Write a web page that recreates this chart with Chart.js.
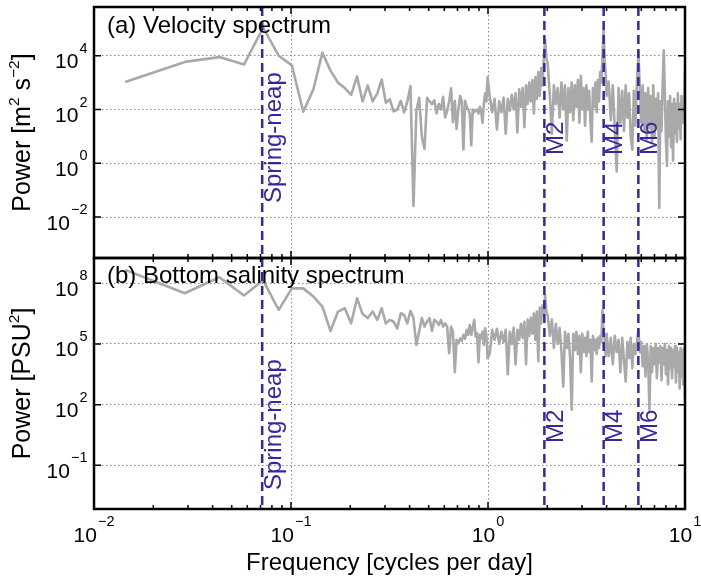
<!DOCTYPE html>
<html><head><meta charset="utf-8">
<script src="https://cdn.jsdelivr.net/npm/chart.js@4.4.0/dist/chart.umd.min.js"></script>
<style>
html,body{margin:0;padding:0;background:#fff;}
#wrap{position:relative;width:701px;height:579px;overflow:hidden;background:#fff;}
#c1{position:absolute;left:0;top:0;}
#c2{position:absolute;left:0;top:250px;}
</style></head><body>
<div id="wrap">
<canvas id="c1" width="701" height="262"></canvas>
<canvas id="c2" width="701" height="329"></canvas>
</div>
<script>
// ---- data ----
const frequency = [
0.0144,0.0289,0.0433,0.0577,0.0722,0.0866,0.1010,0.1154,0.1299,0.1443,
0.1587,0.1732,0.1876,0.2020,0.2165,0.2309,0.2453,0.2597,0.2742,0.2886,
0.3030,0.3175,0.3319,0.3463,0.3608,0.3752,0.3896,0.4040,0.4185,0.4329,
0.4473,0.4618,0.4762,0.4906,0.5051,0.5195,0.5339,0.5483,0.5628,0.5772,
0.5916,0.6061,0.6205,0.6349,0.6494,0.6638,0.6782,0.6926,0.7071,0.7215,
0.7359,0.7504,0.7648,0.7792,0.7937,0.8081,0.8225,0.8369,0.8514,0.8658,
0.8802,0.8947,0.9091,0.9235,0.9380,0.9524,0.9668,0.9812,0.9957,
1.02,1.05,1.08,1.11,1.14,1.17,1.20,1.23,1.26,1.29,1.32,1.35,1.38,1.41,1.44,1.47,1.50,1.53,1.56,1.59,1.62,1.65,1.68,1.71,1.74,1.77,1.80,1.83,1.86,1.89,1.92,1.95,1.98,
2.01,2.06,2.11,2.16,2.21,2.26,2.31,2.36,2.41,2.46,2.51,2.56,2.61,2.66,2.71,2.76,2.81,2.86,2.91,2.96,3.01,3.06,3.11,3.16,3.21,3.26,3.31,3.36,3.41,3.46,3.51,3.56,3.61,3.66,3.71,3.76,3.81,3.86,3.91,3.96,
4.0,4.1,4.2,4.3,4.4,4.5,4.6,4.7,4.8,4.9,5.0,5.1,5.2,5.3,5.4,5.5,5.6,5.7,5.8,5.9,6.0,6.1,6.2,6.3,6.4,6.5,6.6,6.7,6.8,6.9,
7.0,7.1,7.2,7.3,7.4,7.5,7.6,7.7,7.8,7.9,8.0,8.1,8.2,8.3,8.4,8.5,8.6,8.7,8.8,8.9,9.0,9.1,9.2,9.3,9.4,9.5,9.6,9.7,9.8,9.9,10.0
];

const velocityPower = [
1.05e3,5.9e3,8.9e3,4.7e3,1.1e5,1.0e4,4.4e3,83,5.6e2,1.3e4,
2.8e3,1.0e3,6.3e2,3.5e2,1.7e3,2.0e2,7.9e2,2.0e2,4.0e2,1.3e3,
1.8e2,2.4e2,85,1.0e2,2.1e2,78,2.0e2,7.4e2,0.026,89,
2.75e2,9.3,3.5,2.75e2,2.0e2,1.6e2,2.2e2,72,1.6e2,1.0e2,
2.95e2,51,89,2.0e2,6.2e2,34,2.1e2,19,1.0e2,3.2e2,
2.1e2,3.3,2.1e2,1.26e2,1.0e2,68,4.7,1.0e2,80,89,
1.0e2,71,1.26e2,89,32,1.6e2,4.0e2,2.0e2,1.6e3,
3.2e2,79,2.5e2,18,2.0e2,79,2.8e2,12.6,2.5e2,89,3.5e2,1.0e2,4.0e2,14,5.6e2,1.26e2,6.3e2,22,7.9e2,1.6e2,1.0e3,2.0e2,1.26e3,71,1.6e3,2.5e2,2.5e3,3.2e2,3.5e3,7.9e2,7.9e3,4.0e4,7.9e3,
5.0e3,3.2e2,12.6,7.9e2,1.6e2,6.3e2,50,1.0e3,1.0e2,7.9e2,7.1,6.3e2,79,1.0e3,40,7.9e2,1.26e2,1.26e3,32,1.8e3,1.0e2,6.3e2,25,7.9e2,1.0e2,5.0e2,40,6.3,6.3e2,1.26e2,1.0e3,79,1.26e3,2.0e2,2.5e3,1.0e3,7.9e3,8.9e4,7.9e3,2.0e3,
3.2e2,1.1e3,40,7.9e2,20,0.5,6.3e2,32,5.0e2,16,7.9e2,50,4.0e2,10,3.2,5.0e2,25,1.0e3,1.4e4,6.3e2,32,7.9e2,16,4.0e2,7.9,6.3e2,20,3.2e2,6.3,7.9e2,
10,2.5e2,25,4.0e2,0.022,2.0e2,16,7.9e2,1.6e4,4.0e2,7.9,0.79,2.0e2,10,3.2e2,4.0,1.6e2,1.26,2.5e2,12.6,1.6e2,6.3,4.0e2,20,1.6e2,7.9,3.2e2,32,2.0e2,63,2.5e3
];

const salinityPower = [
4.6e8,3.2e7,2.0e8,2.5e7,1.4e8,4.8e6,5.6e7,5.6e7,2.2e7,7.1e6,
4.4e5,4.0e6,5.8e6,1.05e6,1.8e7,3.0e6,1.9e6,4.0e6,1.55e6,5.8e6,
1.05e6,1.55e6,1.26e6,5.9e5,3.3e6,2.7e6,1.05e6,4.3e6,1.9e6,8.9e4,
4.1e5,1.9e6,7.2e5,1.26e6,1.9e6,4.4e5,1.55e6,1.26e6,8.7e5,1.55e6,
7.2e5,1.05e6,7.2e5,3.5e4,7.2e5,4.1e5,4.0e3,1.6e5,1.07e5,1.9e5,
1.4e5,2.8e5,1.8e5,5.0e5,2.8e5,8.7e5,2.8e5,6.3e5,1.55e6,2.3e5,
3.4e5,1.26e4,2.8e5,1.9e5,4.1e5,8.9e4,5.9e5,2.8e5,1.95e4,
3.2e4,5.0e5,1.6e5,5.6e5,1.0e5,4.0e5,1.26e5,5.0e5,3.2e3,4.0e5,1.0e5,6.3e5,1.0e4,5.0e5,1.6e5,1.0e6,2.0e5,1.26e6,1.0e4,1.6e6,2.5e5,2.0e6,3.2e5,3.2e6,1.6e5,4.0e6,1.4e4,6.3e6,1.0e6,7.9e6,2.5e6,2.5e7,4.0e6,
2.5e6,2.5e5,1.6e6,6.3e4,1.0e6,1.0e5,6.3e5,4.0e4,7.9e2,4.0e5,6.3e4,3.2e5,2.0e4,56,3.2e5,5.0e4,4.0e5,3.2e4,2.5e5,4.0e3,3.2e5,4.0e4,2.0e5,2.5e4,4.0e5,4.0e4,1.6e5,1.4e3,2.5e5,5.0e4,1.6e5,3.2e4,2.0e5,6.3e4,2.5e5,1.26e5,4.8e6,4.0e5,1.6e5,2.5e4,
3.2e5,2.5e4,2.0e5,1.0e4,2.5e5,4.0e4,1.6e5,4.0e3,2.0e5,1.6e4,1.4e3,1.26e5,2.0e4,2.0e5,6.3e3,1.0e5,3.2e4,1.26e5,5.0e5,4.0e4,1.26e5,7.9e3,7.9e4,2.5e3,1.0e5,1.6e4,56,7.9e4,4.0e3,6.3e4,
1.0e4,1.0e5,2.0e3,6.3e4,1.26e4,7.9e4,1.6e3,6.3e4,1.0e4,1.0e5,3.2e3,5.0e4,1.0e3,7.9e4,6.3e3,6.3e4,2.0e3,5.0e4,7.9e3,7.9e4,1.26e3,6.3e4,4.0e3,4.0e4,6.3e2,6.3e4,2.5e3,5.0e4,1.0e3,6.3e4,2.0e2
];

const xTickValues = [0.01, 0.1, 1, 10];
const velocityTickValues = [1e-2, 1, 1e2, 1e4];
const salinityTickValues = [1e-1, 1e2, 1e5, 1e8];
const constituentNames = ['Spring-neap', 'M2', 'M4', 'M6'];
const constituentFreq = [0.0714, 1.9323, 3.8647, 5.7970];
const panelTitles = ['(a) Velocity spectrum', '(b) Bottom salinity spectrum'];
// y-axis titles: [text, isSuperscript]
const velocityTitleParts = [['Power [m', 0], ['2', 1], [' s', 0], ['\u22122', 1], [']', 0]];
const salinityTitleParts = [['Power [PSU', 0], ['2', 1], [']', 0]];
const xTitle = 'Frequency [cycles per day]';

// ---- drawing ----
const BLUE = '#35299a';
const GREY_LINE = '#a9a9a9';
const FAMILY = '"Liberation Sans", Arial, Helvetica, sans-serif';
Chart.defaults.font.family = FAMILY;
const TICK_BASE = '21px ' + FAMILY;
const TICK_SUP = '14.5px ' + FAMILY;

function powerParts(v) {
  const e = Math.round(Math.log10(v));
  return ['10', String(e).replace('-', '\u2212')];
}

function drawPowerLabel(ctx, v, x, baseY, align) {
  const [base, sup] = powerParts(v);
  ctx.font = TICK_BASE; const w1 = ctx.measureText(base).width;
  ctx.font = TICK_SUP; const w2 = ctx.measureText(sup).width;
  const total = w1 + 1 + w2;
  const start = align === 'center' ? x - total / 2 : x - total;
  ctx.textAlign = 'left'; ctx.textBaseline = 'alphabetic'; ctx.fillStyle = '#000';
  ctx.font = TICK_BASE; ctx.fillText(base, start, baseY);
  ctx.font = TICK_SUP; ctx.fillText(sup, start + w1 + 1, baseY - 15.5);
}

function drawRotatedTitle(ctx, parts, baselineX, centerY) {
  const BASE = '25px ' + FAMILY, SUPF = '15.5px ' + FAMILY;
  let total = 0;
  const widths = parts.map(p => { ctx.font = p[1] ? SUPF : BASE; const w = ctx.measureText(p[0]).width; total += w; return w; });
  ctx.save();
  ctx.translate(baselineX, centerY); ctx.rotate(-Math.PI / 2);
  ctx.textAlign = 'left'; ctx.textBaseline = 'alphabetic'; ctx.fillStyle = '#000';
  let u = -total / 2;
  parts.forEach((p, i) => { ctx.font = p[1] ? SUPF : BASE; ctx.fillText(p[0], u, p[1] ? -11.5 : 0); u += widths[i]; });
  ctx.restore();
}

const decorPlugin = {
  id: 'decor',
  afterDatasetsDraw(chart, args, o) {
    const ctx = chart.ctx, a = chart.chartArea;
    const xs = chart.scales.x, ys = chart.scales.y;
    ctx.save();
    // constituent lines
    ctx.strokeStyle = BLUE; ctx.lineWidth = 2.5; ctx.setLineDash([9, 5]);
    constituentFreq.forEach(f => {
      const px = xs.getPixelForValue(f);
      ctx.beginPath(); ctx.moveTo(px, a.top); ctx.lineTo(px, a.bottom); ctx.stroke();
    });
    ctx.setLineDash([]);
    ctx.fillStyle = BLUE; ctx.font = '24px ' + FAMILY;
    ctx.textAlign = 'left'; ctx.textBaseline = 'alphabetic';
    constituentNames.forEach((name, i) => {
      const px = xs.getPixelForValue(constituentFreq[i]);
      const start = a.top + (i === 0 ? o.springStart : o.tideStart);
      ctx.save(); ctx.translate(px + 18.5, start); ctx.rotate(-Math.PI / 2);
      ctx.fillText(name, 0, 0); ctx.restore();
    });
    // panel title
    ctx.fillStyle = '#000'; ctx.font = '24px ' + FAMILY;
    ctx.fillText(o.title, a.left + 13, a.top + o.titleBase);
    // inward ticks
    ctx.strokeStyle = '#000'; ctx.lineWidth = 1.5;
    for (let d = -2; d <= 0; d++) {
      for (let m = 1; m <= 9; m++) {
        const v = m * Math.pow(10, d);
        if (v <= 0.01 || v >= 10) continue;
        const px = xs.getPixelForValue(v);
        const len = m === 1 ? 7 : 4;
        ctx.beginPath();
        ctx.moveTo(px, a.bottom); ctx.lineTo(px, a.bottom - len);
        ctx.moveTo(px, a.top); ctx.lineTo(px, a.top + len);
        ctx.stroke();
      }
    }
    o.yTicks.forEach(v => {
      const py = ys.getPixelForValue(v);
      ctx.beginPath();
      ctx.moveTo(a.left, py); ctx.lineTo(a.left + 7, py);
      ctx.moveTo(a.right, py); ctx.lineTo(a.right - 7, py);
      ctx.stroke();
    });
    // frame
    ctx.lineWidth = 2.5;
    ctx.strokeRect(a.left, a.top, a.right - a.left, a.bottom - a.top);
    // tick labels (10 with superscript exponent)
    o.yTicks.forEach(v => drawPowerLabel(ctx, v, a.left - 6.5, ys.getPixelForValue(v) + 12.5, 'right'));
    if (o.showXLabels) {
      xTickValues.forEach(v => drawPowerLabel(ctx, v, xs.getPixelForValue(v), a.bottom + 32.7, 'center'));
    }
    // y-axis title
    drawRotatedTitle(ctx, o.yTitleParts, 30, (a.top + a.bottom) / 2);
    ctx.restore();
  }
};

function buildPanel(canvasId, values, cfg) {
  return new Chart(document.getElementById(canvasId), {
    type: 'line',
    data: {
      labels: frequency,
      datasets: [{ data: values, borderColor: GREY_LINE, borderWidth: 2.6, pointRadius: 0,
                   tension: 0, fill: false, borderJoinStyle: 'round' }]
    },
    options: {
      responsive: false, animation: false, devicePixelRatio: 1,
      layout: { padding: { left: 0, right: 16, top: cfg.padTop, bottom: cfg.padBottom } },
      plugins: { legend: { display: false }, tooltip: { enabled: false }, decor: cfg.decor },
      scales: {
        x: {
          type: 'logarithmic', min: 0.01, max: 10,
          afterBuildTicks: s => { s.ticks = xTickValues.map(v => ({ value: v })); },
          afterFit: s => { s.height = cfg.xHeight; s.paddingLeft = 0; s.paddingRight = 0; },
          grid: { display: true, drawTicks: false, color: '#8a8a8a', lineWidth: 1 },
          border: { display: false, dash: [1.5, 2.5] },
          ticks: { display: false },
          title: { display: cfg.showX, text: xTitle, color: '#000', font: { size: 24 },
                   padding: { top: 0, bottom: 1 } }
        },
        y: {
          type: 'logarithmic', min: cfg.yMin, max: cfg.yMax,
          afterBuildTicks: s => { s.ticks = cfg.yTicks.map(v => ({ value: v })); },
          afterFit: s => { s.width = 94; s.paddingTop = 0; s.paddingBottom = 0; },
          grid: { display: true, drawTicks: false, color: '#8a8a8a', lineWidth: 1 },
          border: { display: false, dash: [1.5, 2.5] },
          ticks: { display: false },
          title: { display: false }
        }
      }
    },
    plugins: [decorPlugin]
  });
}

buildPanel('c1', velocityPower, {
  padTop: 7, padBottom: 4, xHeight: 0, showX: false,
  yMin: 3.4e-4, yMax: 6.5e5, yTicks: velocityTickValues,
  decor: { springStart: 196, tideStart: 148, title: panelTitles[0], titleBase: 26,
           yTicks: velocityTickValues, showXLabels: false, yTitleParts: velocityTitleParts }
});
buildPanel('c2', salinityPower, {
  padTop: 8, padBottom: 0, xHeight: 70, showX: true,
  yMin: 6.9e-4, yMax: 1.78e9, yTicks: salinityTickValues,
  decor: { springStart: 232, tideStart: 185, title: panelTitles[1], titleBase: 25,
           yTicks: salinityTickValues, showXLabels: true, yTitleParts: salinityTitleParts }
});
</script>
</body></html>
